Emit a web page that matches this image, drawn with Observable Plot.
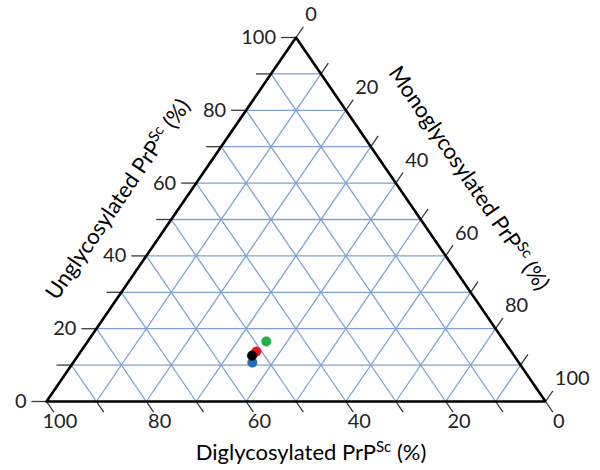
<!DOCTYPE html>
<html><head><meta charset="utf-8">
<script src="https://cdn.jsdelivr.net/npm/d3@7"></script>
<script src="https://cdn.jsdelivr.net/npm/@observablehq/plot@0.6"></script>
<style>html,body{margin:0;padding:0;background:#fff}#chart{width:600px;height:470px}</style>
</head><body><div id="chart"></div>
<script>
// ---- data (percentages) ----
const sampleColors     = ["#1f6fc0", "#21b04b", "#e5161d", "#000000"];
const unglycosylated   = [10.7, 16.5, 13.7, 12.6];
const monoglycosylated = [35.9, 35.8, 35.2, 34.9];
const diglycosylated   = [53.4, 47.7, 51.1, 52.5];
const gridLevels  = [10, 20, 30, 40, 50, 60, 70, 80, 90];
const tickLevels  = [0, 10, 20, 30, 40, 50, 60, 70, 80, 90, 100];
const labelLevels = [0, 20, 40, 60, 80, 100];
const titleUng  = "Unglycosylated PrPSc (%)";
const titleMono = "Monoglycosylated PrPSc (%)";
const titleDi   = "Diglycosylated PrPSc (%)";

// ---- layout ----
const W = 600, H = 470, mL = 46, mR = 55, mT = 37, mB = 69;
const kx = W - mL - mR, ky = H - mT - mB;
const edgeLen = Math.hypot(kx / 2, ky), ux = (kx / 2) / edgeLen, uy = ky / edgeLen;
const angle = Math.atan2(ky, kx / 2) * 180 / Math.PI;
const tl = 15, td = 13;
const numSize = 20, titleSize = 22;

// ternary (unglycosylated, monoglycosylated) -> cartesian data coords
const T = (ung, mono) => ({x: mono / 100 + ung / 200, y: ung / 100});
const off = (p, px, py) => ({x: p.x + px / kx, y: p.y - py / ky});
const seg = (a, b) => ({x1: a.x, y1: a.y, x2: b.x, y2: b.y});

const grid = gridLevels.flatMap(k => [
  seg(T(k, 0), T(k, 100 - k)),
  seg(T(0, k), T(100 - k, k)),
  seg(T(0, 100 - k), T(100 - k, 0))
]);
const ticks = tickLevels.flatMap(k => {
  const a = T(k, 0), b = T(100 - k, k), c = T(0, 100 - k);
  return [
    seg(a, off(a, -tl, 0)),
    seg(b, off(b, td * ux, -td * uy)),
    seg(c, off(c, td * ux, td * uy))
  ];
});
const outline = [T(0, 0), T(0, 100), T(100, 0), T(0, 0)];
const points = unglycosylated.map((u, i) => ({...T(u, monoglycosylated[i]), di: diglycosylated[i], color: sampleColors[i]}));
const ungLabels  = labelLevels.map(k => ({...T(k, 0), t: String(k)}));
const monoLabels = labelLevels.map(k => ({...T(100 - k, k), t: String(k)}));
const diLabels   = labelLevels.map(k => ({...T(0, 100 - k), t: String(k)}));

const svg = Plot.plot({
  width: W, height: H,
  marginLeft: mL, marginRight: mR, marginTop: mT, marginBottom: mB,
  x: {domain: [0, 1], axis: null},
  y: {domain: [0, 1], axis: null},
  color: {type: "identity"},
  style: {fontFamily: "Lato, 'Open Sans', sans-serif", fontSize: "18px", background: "#fff", color: "#000"},
  marks: [
    Plot.link(grid, {x1: "x1", y1: "y1", x2: "x2", y2: "y2", stroke: "#7fa1d6", strokeWidth: 1.3}),
    Plot.link(ticks, {x1: "x1", y1: "y1", x2: "x2", y2: "y2", stroke: "#3a3a3a", strokeWidth: 1.3}),
    Plot.line(outline, {x: "x", y: "y", stroke: "#000", strokeWidth: 2.6, strokeLinejoin: "miter"}),
    Plot.dot(points, {x: "x", y: "y", r: 4.8, fill: "color", stroke: "color", strokeWidth: 0.5}),
    Plot.text(ungLabels, {x: "x", y: "y", text: "t", dx: -tl - 5, textAnchor: "end", lineAnchor: "middle", fill: "#222", fontSize: numSize}),
    Plot.text(monoLabels, {x: "x", y: "y", text: "t", dx: td * ux + 2, dy: -td * uy - 12, textAnchor: "start", lineAnchor: "middle", fill: "#222", fontSize: numSize}),
    Plot.text(diLabels, {x: "x", y: "y", text: "t", dx: td * ux + 6, dy: td * uy + 9, textAnchor: "middle", lineAnchor: "middle", fill: "#222", fontSize: numSize}),
    Plot.text([T(0, 50)], {x: "x", y: "y", text: () => titleDi, dx: 15, dy: 51, textAnchor: "middle", lineAnchor: "middle", fontSize: titleSize, fill: "#000"}),
    Plot.text([T(50, 0)], {x: "x", y: "y", text: () => titleUng, dx: -53, dy: -20, rotate: -angle, textAnchor: "middle", lineAnchor: "middle", fontSize: titleSize, fill: "#000"}),
    Plot.text([T(50, 50)], {x: "x", y: "y", text: () => titleMono, dx: 48, dy: -41, rotate: angle, textAnchor: "middle", lineAnchor: "middle", fontSize: titleSize, fill: "#000"})
  ]
});

// superscript "Sc" in the axis titles
d3.select(svg).selectAll("text").each(function () {
  const t = this.textContent;
  if (t.includes("PrPSc")) {
    const [a, b] = t.split("PrPSc");
    const s = d3.select(this);
    s.text(null);
    s.append("tspan").text(a + "PrP");
    s.append("tspan").attr("dy", -8).attr("font-size", 15).text("Sc");
    s.append("tspan").attr("dy", 8).text(b);
  }
});
document.getElementById("chart").append(svg);
</script>
</body></html>
